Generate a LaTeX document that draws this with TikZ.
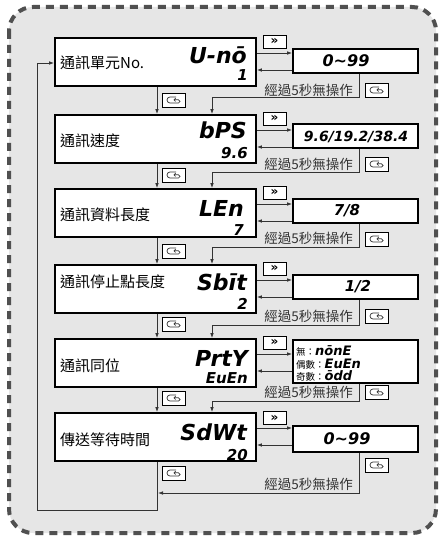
\documentclass[tikz,border=0pt]{standalone}
\usepackage{fontspec}
\newfontfamily\cjk{Noto Sans CJK TC}
\newfontfamily\segf{DejaVu Sans}
\usetikzlibrary{arrows.meta}
\definecolor{panelfill}{HTML}{E6E6E6}
\definecolor{panelline}{HTML}{505050}
\definecolor{wire}{HTML}{333333}
\begin{document}
\begin{tikzpicture}[x=1pt,y=-1pt,
  mainbox/.style={draw=black, line width=1.8pt, fill=white, minimum width=201pt, minimum height=48pt, inner sep=0pt},
  valbox/.style={draw=black, line width=1.8pt, fill=white, minimum width=125pt, inner sep=0pt},
  keybox/.style={draw=black, line width=0.9pt, fill=white, minimum width=23pt, minimum height=13pt, inner sep=0pt, font=\segf\bfseries\fontsize{12}{12}\selectfont},
  modekey/.style={draw=black, line width=0.9pt, fill=white, minimum width=23pt, minimum height=14pt, inner sep=0pt,
    path picture={\draw[wire, line width=0.7pt, shift={(path picture bounding box.center)}, x=1pt, y=1pt, -{Straight Barb[length=1.6pt,width=3.2pt]}] (2,3) -- (-4,3) arc[start angle=90,end angle=270,radius=3] -- (4.5,-3) arc[start angle=-90,end angle=90,radius=1.6] -- (-0.5,0.2);}},
  lbl/.style={font=\cjk\fontsize{15}{15}\selectfont, inner sep=0pt, anchor=west},
  big/.style={font=\segf\bfseries\itshape\fontsize{22}{22}\selectfont, inner sep=0pt, anchor=base east},
  small/.style={font=\segf\bfseries\itshape\fontsize{15}{15}\selectfont, inner sep=0pt, anchor=base east},
  val/.style={font=\segf\bfseries\itshape\fontsize{15}{15}\selectfont, inner sep=0pt},
  opt/.style={inner sep=0pt, anchor=base west},
  tmo/.style={font=\cjk\fontsize{13.5}{13.5}\selectfont, text=wire, inner sep=0pt, anchor=east},
  arr/.style={draw=wire, line width=0.8pt, -{Latex[length=5pt,width=3.6pt]}},
]
\fill[white] (0,0) rectangle (444,540);
\path[use as bounding box] (0,0) rectangle (444,540);
\draw[panelline, fill=panelfill, line width=4pt, dash pattern=on 8pt off 6pt, rounded corners=24pt] (9,7) rectangle (436,533);

% main boxes
\node[mainbox] (m1) at (155.5,62) {};
\node[mainbox] (m2) at (155.5,139) {};
\node[mainbox] (m3) at (155.5,213) {};
\node[mainbox] (m4) at (155.5,289) {};
\node[mainbox] (m5) at (155.5,363) {};
\node[mainbox] (m6) at (155.5,437) {};

% value boxes
\node[valbox, minimum height=24pt] (r1) at (355.5,61) {};
\node[valbox, minimum height=24pt] (r2) at (355.5,136) {};
\node[valbox, minimum height=24pt] (r3) at (355.5,211) {};
\node[valbox, minimum height=24pt] (r4) at (355.5,287) {};
\node[valbox, minimum height=43pt] (r5) at (355.5,361.5) {};
\node[valbox, minimum height=26pt] (r6) at (355.5,439) {};

% labels
\node[lbl] (l1) at (60,63) {通訊單元No.};
\node[lbl] (l2) at (60,141) {通訊速度};
\node[lbl] (l3) at (60,215) {通訊資料長度};
\node[lbl] (l4) at (60,282) {通訊停止點長度};
\node[lbl] (l5) at (60,366) {通訊同位};
\node[lbl] (l6) at (60,440) {傳送等待時間};

% displays
\node[big] (d1) at (247,64) {U-nō};
\node[big] (d2) at (247,139) {bPS};
\node[big] (d3) at (244,216) {LEn};
\node[big] (d4) at (247,290) {Sbīt};
\node[big] (d5) at (248,366) {PrtY};
\node[big] (d6) at (247,440) {SdWt};
\node[small] (s1) at (248,81) {1};
\node[small] (s2) at (248,158) {9.6};
\node[small] (s3) at (244,235) {7};
\node[small] (s4) at (248,309) {2};
\node[small] (s5) at (248,383) {EuEn};
\node[small] (s6) at (248,460) {20};

% values
\node[val, font=\segf\bfseries\itshape\fontsize{16}{16}\selectfont] (v1) at (346,61) {0\textasciitilde 99};
\node[val, font=\segf\bfseries\itshape\fontsize{14}{14}\selectfont] (v2) at (356,137) {9.6/19.2/38.4};
\node[val] (v3) at (347,211) {7/8};
\node[val] (v4) at (358,287) {1/2};
\node[val, font=\segf\bfseries\itshape\fontsize{16}{16}\selectfont] (v6) at (347,439) {0\textasciitilde 99};
\node[opt] (o1) at (296,355) {{\cjk\fontsize{9.5}{10}\selectfont 無：}{\segf\bfseries\itshape\fontsize{13}{13}\selectfont nōnE}};
\node[opt] (o2) at (296,368) {{\cjk\fontsize{9.5}{10}\selectfont 偶數：}{\segf\bfseries\itshape\fontsize{13}{13}\selectfont EuEn}};
\node[opt] (o3) at (296,380) {{\cjk\fontsize{9.5}{10}\selectfont 奇數：}{\segf\bfseries\itshape\fontsize{13}{13}\selectfont ōdd}};

% key boxes
\node[keybox] (k1) at (274.5,41.5) {»};
\node[keybox] (k2) at (274.5,118.5) {»};
\node[keybox] (k3) at (274.5,192.5) {»};
\node[keybox] (k4) at (274.5,268.5) {»};
\node[keybox] (k5) at (274.5,342.5) {»};
\node[keybox] (k6) at (274.5,418) {»};

% forward / back arrows
\foreach \i in {1,...,6}{
  \coordinate (f\i) at ([yshift=9pt]m\i.east);
  \coordinate (b\i) at ([yshift=-8pt]m\i.east);
  \draw[arr] (f\i) -- (f\i -| r\i.west);
  \draw[arr] (b\i -| r\i.west) -- (b\i);
  \coordinate (t\i) at ([xshift=3.5pt]r\i.south);
}

% timeout loops and mode keys
\coordinate (c1) at (212,97);
\coordinate (c2) at (212,172);
\coordinate (c3) at (212,247);
\coordinate (c4) at (212,325);
\coordinate (c5) at (212,401);
\coordinate (c6) at (158,493);
\draw[arr] (t1) |- (c1) -- (c1 |- m2.north);
\draw[arr] (t2) |- (c2) -- (c2 |- m3.north);
\draw[arr] (t3) |- (c3) -- (c3 |- m4.north);
\draw[arr] (t4) |- (c4) -- (c4 |- m5.north);
\draw[arr] (t5) |- (c5) -- (c5 |- m6.north);
\draw[arr] (t6) |- (c6);

\node[tmo] (w1) at (353,90) {經過5秒無操作};
\node[tmo] (w2) at (353,164) {經過5秒無操作};
\node[tmo] (w3) at (353,238) {經過5秒無操作};
\node[tmo] (w4) at (353,316) {經過5秒無操作};
\node[tmo] (w5) at (353,392) {經過5秒無操作};
\node[tmo] (w6) at (353,484) {經過5秒無操作};

\node[modekey] (e1) at (377,90) {};
\node[modekey] (e2) at (377,164) {};
\node[modekey] (e3) at (377,239) {};
\node[modekey] (e4) at (377,316) {};
\node[modekey] (e5) at (377,392) {};
\node[modekey] (e6) at (377,465) {};

% down arrows
\draw[arr] ([xshift=1.5pt]m1.south) -- ([xshift=1.5pt]m2.north);
\draw[arr] ([xshift=1.5pt]m2.south) -- ([xshift=1.5pt]m3.north);
\draw[arr] ([xshift=1.5pt]m3.south) -- ([xshift=1.5pt]m4.north);
\draw[arr] ([xshift=1.5pt]m4.south) -- ([xshift=1.5pt]m5.north);
\draw[arr] ([xshift=1.5pt]m5.south) -- ([xshift=1.5pt]m6.north);
\node[modekey] (g1) at (174,100) {};
\node[modekey] (g2) at (174,175) {};
\node[modekey] (g3) at (174,251) {};
\node[modekey] (g4) at (174,324) {};
\node[modekey] (g5) at (174,398) {};
\node[modekey] (g6) at (174,473) {};

% return path
\coordinate (br) at (157,510);
\coordinate (bl) at (37.5,510);
\draw[arr] ([xshift=1.5pt]m6.south) -- (br) -- (bl) |- ([yshift=-1pt]m1.west);
\end{tikzpicture}
\end{document}
